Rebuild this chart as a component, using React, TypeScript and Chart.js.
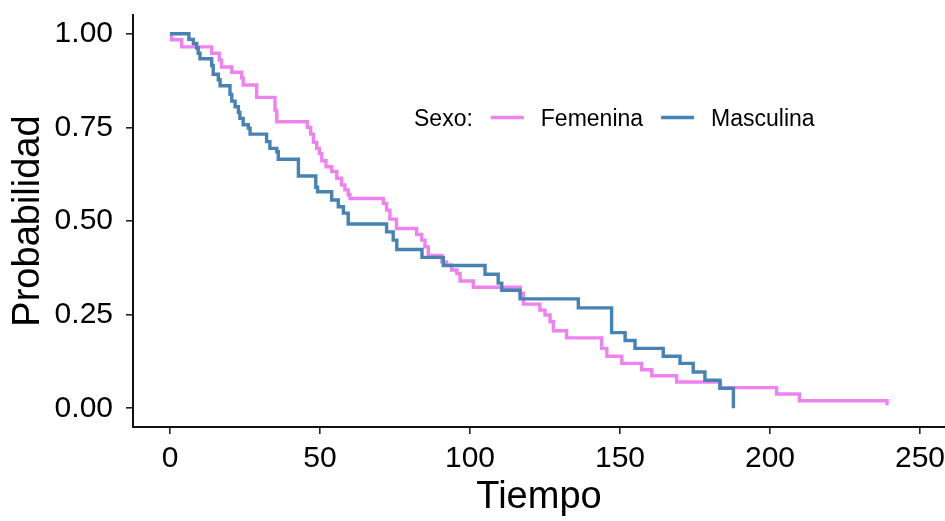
import React, { useEffect, useRef } from 'react';
import { Chart, registerables } from 'chart.js';

Chart.register(...registerables);

// ---- Data (Kaplan–Meier step curves: time of drop, survival after drop) ----
const femTime = [0, 0.5, 3.9, 13.9, 16.4, 17.2, 20.6, 23.9, 24.4, 28.9, 35.0, 35.6, 45.8, 46.9, 47.8, 48.9, 49.8, 50.6, 52.0, 53.9, 55.6, 57.2, 58.3, 59.4, 60.0, 71.1, 72.2, 73.3, 75.5, 82.2, 83.9, 85.0, 86.1, 90.6, 92.2, 93.9, 95.6, 96.7, 101.1, 116.7, 117.8, 123.3, 125.0, 126.7, 127.8, 132.2, 143.9, 145.6, 150.6, 157.2, 160.6, 168.9, 183.5, 202.2, 209.8, 239.0];
const femSurv = [1.0, 0.984, 0.965, 0.948, 0.930, 0.911, 0.897, 0.882, 0.863, 0.830, 0.795, 0.765, 0.750, 0.732, 0.710, 0.694, 0.680, 0.661, 0.645, 0.632, 0.614, 0.596, 0.583, 0.570, 0.560, 0.547, 0.529, 0.505, 0.480, 0.464, 0.449, 0.431, 0.408, 0.391, 0.382, 0.369, 0.360, 0.340, 0.323, 0.307, 0.278, 0.262, 0.249, 0.231, 0.207, 0.188, 0.160, 0.139, 0.120, 0.103, 0.087, 0.070, 0.055, 0.038, 0.020, 0.008];

const mascTime = [0, 6.3, 7.8, 8.9, 9.4, 10.0, 13.9, 14.4, 16.1, 16.7, 20.0, 20.6, 21.7, 22.8, 23.3, 24.4, 26.1, 26.7, 32.2, 33.3, 35.6, 36.1, 42.8, 48.6, 49.2, 53.9, 56.1, 57.8, 59.4, 72.2, 74.4, 75.6, 84.0, 91.1, 105.0, 109.4, 110.6, 116.7, 136.1, 147.2, 151.7, 155.0, 164.4, 170.0, 174.4, 178.3, 183.3, 187.8];
const mascSurv = [1.0, 0.985, 0.974, 0.962, 0.948, 0.933, 0.915, 0.892, 0.877, 0.861, 0.838, 0.820, 0.805, 0.790, 0.774, 0.757, 0.748, 0.732, 0.712, 0.694, 0.685, 0.665, 0.620, 0.590, 0.578, 0.556, 0.538, 0.521, 0.492, 0.471, 0.449, 0.424, 0.403, 0.381, 0.358, 0.334, 0.315, 0.292, 0.268, 0.202, 0.181, 0.160, 0.139, 0.120, 0.097, 0.075, 0.053, 0.0];

const xTicks = [0, 50, 100, 150, 200, 250];
const yTicks = [0, 0.25, 0.5, 0.75, 1.0];
const seriesNames = ['Femenina', 'Masculina'];
const seriesColors = ['#EE82EE', '#4682B4'];
const legendTitle = 'Sexo:';
const xTitle = 'Tiempo';
const yTitle = 'Probabilidad';

const FONT = "'Liberation Sans', Arial, Helvetica, sans-serif";

const legendPlugin = {
  id: 'kmLegend',
  afterDraw(chart: any) {
    const ctx = chart.ctx;
    const area = chart.chartArea;
    ctx.save();
    ctx.font = `23px ${FONT}`;
    ctx.fillStyle = '#000';
    ctx.textBaseline = 'middle';
    ctx.textAlign = 'left';
    let x = area.left + 281;
    const ty = area.top + 105;
    const ly = area.top + 102.5;
    ctx.fillText(legendTitle, x, ty);
    x += ctx.measureText(legendTitle).width + 18;
    chart.data.datasets.forEach((ds: any) => {
      ctx.strokeStyle = ds.borderColor;
      ctx.lineWidth = 3.4;
      ctx.lineCap = 'butt';
      ctx.beginPath();
      ctx.moveTo(x, ly);
      ctx.lineTo(x + 33, ly);
      ctx.stroke();
      x += 33 + 17;
      ctx.fillText(ds.label, x, ty);
      x += ctx.measureText(ds.label).width + 18;
    });
    ctx.restore();
  },
};

export default function App() {
  const ref = useRef<HTMLCanvasElement>(null);

  useEffect(() => {
    if (!ref.current) return;
    const toPts = (t: number[], s: number[]) => t.map((v, i) => ({ x: v, y: s[i] }));
    const axisCommon = {
      grid: { drawOnChartArea: false, drawTicks: true, tickLength: 7, color: '#222', lineWidth: 1.6 },
      border: { display: true, color: '#111', width: 2 },
    };
    const chart = new Chart(ref.current, {
      type: 'line',
      data: {
        datasets: [
          {
            label: seriesNames[0],
            data: toPts(femTime, femSurv),
            borderColor: seriesColors[0],
            backgroundColor: seriesColors[0],
            borderWidth: 3.4,
            stepped: 'before',
            pointRadius: 0,
            fill: false,
            tension: 0,
            order: 1,
          },
          {
            label: seriesNames[1],
            data: toPts(mascTime, mascSurv),
            borderColor: seriesColors[1],
            backgroundColor: seriesColors[1],
            borderWidth: 3.4,
            stepped: 'before',
            pointRadius: 0,
            fill: false,
            tension: 0,
            order: 0,
          },
        ],
      },
      options: {
        responsive: false,
        animation: false,
        devicePixelRatio: 1,
        layout: { padding: { top: 15, right: 0, bottom: 0, left: 0 } },
        plugins: { legend: { display: false }, tooltip: { enabled: false } },
        scales: {
          x: {
            type: 'linear',
            min: -12.33,
            max: 258.33,
            ...axisCommon,
            afterBuildTicks: (s: any) => {
              s.ticks = xTicks.map((v) => ({ value: v }));
            },
            afterFit: (s: any) => {
              s.height = 94;
              s.paddingLeft = 0;
              s.paddingRight = 0;
            },
            ticks: {
              font: { family: FONT, size: 30 },
              color: '#000',
              padding: 7,
              maxRotation: 0,
              autoSkip: false,
              callback: (v: any) => String(v),
            },
            title: {
              display: true,
              text: xTitle,
              font: { family: FONT, size: 38 },
              color: '#000',
              padding: { top: 0, bottom: 1 },
            },
          },
          y: {
            type: 'linear',
            min: -0.05,
            max: 1.05,
            ...axisCommon,
            afterBuildTicks: (s: any) => {
              s.ticks = yTicks.map((v) => ({ value: v }));
            },
            afterFit: (s: any) => {
              s.width = 133;
              s.paddingTop = 0;
              s.paddingBottom = 0;
            },
            ticks: {
              font: { family: FONT, size: 30 },
              color: '#000',
              padding: 13,
              autoSkip: false,
              callback: (v: any) => Number(v).toFixed(2),
            },
            title: {
              display: true,
              text: yTitle,
              font: { family: FONT, size: 38 },
              color: '#000',
              padding: { top: 6, bottom: 0 },
            },
          },
        },
      },
      plugins: [legendPlugin],
    } as any);
    return () => chart.destroy();
  }, []);

  return (
    <div style={{ position: 'absolute', left: 0, top: 0, width: 945, height: 521, background: '#fff' }}>
      <canvas ref={ref} width={945} height={521} style={{ display: 'block', width: 945, height: 521 }} />
    </div>
  );
}
